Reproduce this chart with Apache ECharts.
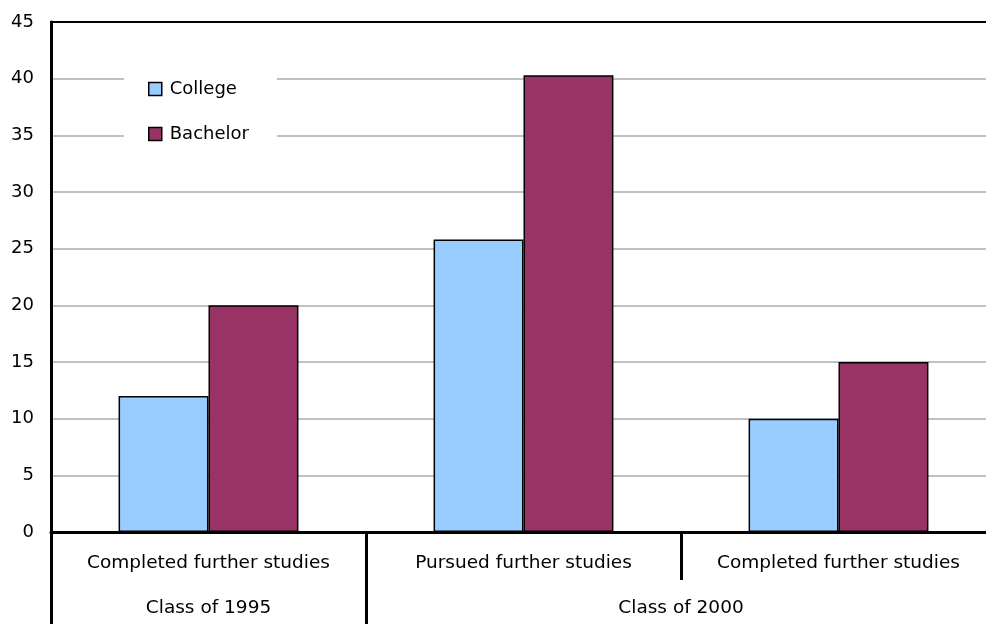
<!DOCTYPE html>
<html>
<head>
<meta charset="utf-8">
<script src="https://cdn.jsdelivr.net/npm/echarts@6/dist/echarts.min.js"></script>
<style>
  html, body { margin: 0; padding: 0; background: #fff; }
  #chart { width: 986px; height: 624px; }
</style>
</head>
<body>
<div id="chart"></div>
<script>
// categories + groups
var categories = ['Completed further studies', 'Pursued further studies', 'Completed further studies']
var groupNames = ['Class of 1995', 'Class of 2000']
var groupCenters = [0.5, 2] // middle of each group, in category units
var groupBounds = [0, 1, 3] // group separators
var collegeValues = [12, 25.8, 10]
var bachelorValues = [20, 40.3, 15]

var chart = echarts.init(document.getElementById('chart'))
var font = 'DejaVu Sans, sans-serif'

var option = {
  animation: false,
  textStyle: { fontFamily: font },
  grid: {
    left: 51,
    width: 945, // plot runs past the right edge of the picture
    top: 22,
    bottom: 92,
    outerBoundsMode: 'none',
    containLabel: false,
    show: true,
    borderColor: '#000',
    borderWidth: 2,
    backgroundColor: 'transparent',
  },
  legend: {
    orient: 'vertical',
    left: 124,
    top: 60,
    padding: [20, 28, 22, 24],
    backgroundColor: '#fff',
    itemWidth: 13,
    itemHeight: 13,
    itemGap: 27,
    icon: 'rect',
    textStyle: { fontSize: 18, color: '#000', fontFamily: font, padding: [0, 0, 0, 3] },
    itemStyle: { borderColor: '#000', borderWidth: 1.5 },
    data: ['College', 'Bachelor'],
  },
  xAxis: [
    {
      type: 'category',
      data: categories,
      boundaryGap: true,
      axisLine: { lineStyle: { color: '#000', width: 3 } },
      axisTick: { show: true, length: 48, lineStyle: { color: '#000', width: 3 } },
      axisLabel: { interval: 0, color: '#000', fontSize: 18.5, margin: 22, fontFamily: font },
      splitLine: { show: false },
    },
    {
      // group level (Class of ...)
      type: 'value',
      position: 'bottom',
      min: 0,
      max: 3,
      axisLine: { show: false },
      splitLine: { show: false },
      axisTick: {
        show: true,
        length: 92,
        customValues: groupBounds,
        lineStyle: { color: '#000', width: 3 },
      },
      axisLabel: {
        color: '#000',
        fontSize: 18.5,
        margin: 67,
        fontFamily: font,
        customValues: groupCenters,
        formatter: function (v) {
          var i = groupCenters.indexOf(v)
          return i >= 0 ? groupNames[i] : ''
        },
      },
    },
  ],
  yAxis: {
    type: 'value',
    min: 0,
    max: 45,
    interval: 5,
    axisLine: { show: true, lineStyle: { color: '#000', width: 3 } },
    axisTick: { show: false },
    axisLabel: { color: '#000', fontSize: 18, margin: 17, fontFamily: font },
    splitLine: { showMaxLine: false, lineStyle: { color: '#c0c0c0', width: 2 } },
  },
  series: [
    {
      name: 'College',
      type: 'bar',
      data: collegeValues,
      barGap: '0%',
      barCategoryGap: '42.9%',
      itemStyle: { color: '#99ccff', borderColor: '#000', borderWidth: 1.5 },
    },
    {
      name: 'Bachelor',
      type: 'bar',
      data: bachelorValues,
      barGap: '0%',
      barCategoryGap: '42.9%',
      itemStyle: { color: '#993366', borderColor: '#000', borderWidth: 1.5 },
    },
  ],
}
chart.setOption(option)
</script>
</body>
</html>
